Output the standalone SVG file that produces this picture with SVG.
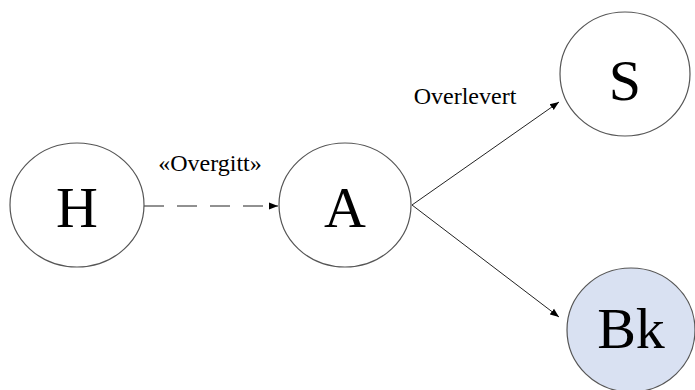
<svg xmlns="http://www.w3.org/2000/svg" width="695" height="390" viewBox="0 0 695 390">
<style>
.node{fill:#fff;stroke:#555;stroke-width:1.2}
.big{font-family:"Liberation Serif","Times New Roman",serif;font-size:58px;fill:#000;text-anchor:middle}
.lbl{font-family:"Liberation Serif","Times New Roman",serif;font-size:24px;fill:#000;text-anchor:middle}
.edge{stroke:#222;stroke-width:1;fill:none}
</style>
<defs>
<marker id="arr" viewBox="0 0 10 10" refX="10" refY="5" markerWidth="9" markerHeight="9" markerUnits="userSpaceOnUse" orient="auto">
<path d="M0,1 L10,5 L0,9 z" fill="#000"/>
</marker>
</defs>
<rect width="695" height="390" fill="#fff"/>
<g id="connectors">
<line class="edge" x1="144" y1="206" x2="278" y2="206" stroke-dasharray="20 13" marker-end="url(#arr)"/>
<line class="edge" x1="412" y1="205" x2="559" y2="102" marker-end="url(#arr)"/>
<line class="edge" x1="412" y1="205" x2="559" y2="317" marker-end="url(#arr)"/>
<text class="lbl" x="210" y="171">«Overgitt»</text>
<text class="lbl" x="465" y="104">Overlevert</text>
</g>
<g id="H">
<ellipse class="node" cx="77" cy="205" rx="67" ry="62"/>
<text class="big" x="77" y="227">H</text>
</g>
<g id="A">
<ellipse class="node" cx="345" cy="205" rx="66" ry="62"/>
<text class="big" x="345" y="227">A</text>
</g>
<g id="S">
<ellipse class="node" cx="625" cy="74" rx="65" ry="62"/>
<text class="big" x="625" y="100">S</text>
</g>
<g id="Bk">
<ellipse class="node" cx="631" cy="330" rx="64" ry="62" style="fill:#d9e1f2"/>
<text class="big" x="631" y="348">Bk</text>
</g>
</svg>
